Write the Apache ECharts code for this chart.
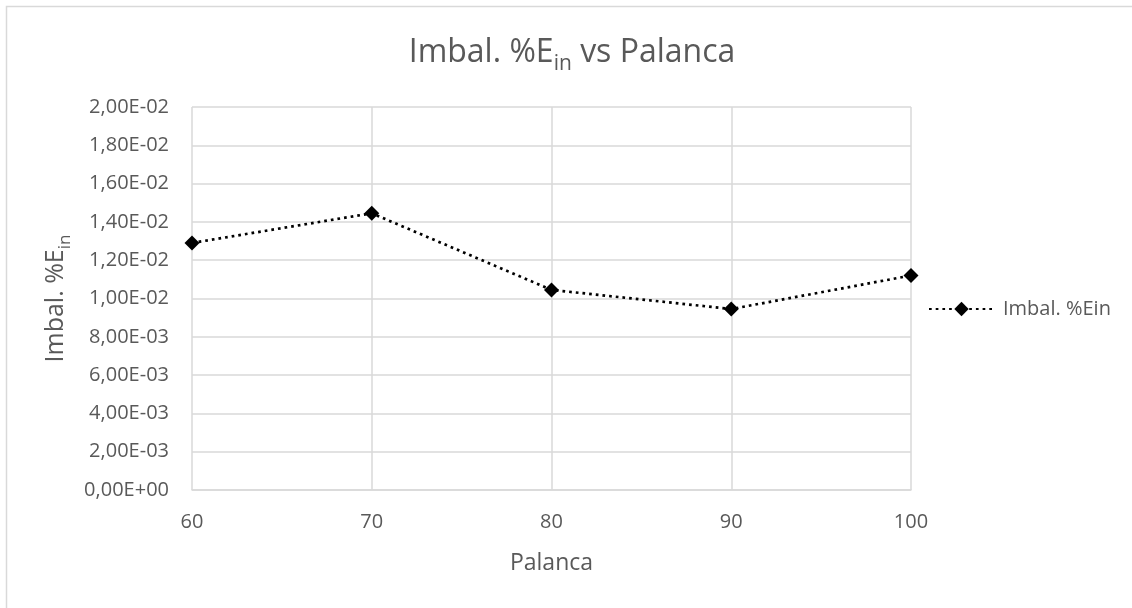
<!DOCTYPE html>
<html>
<head>
<meta charset="utf-8">
<script src="https://cdn.jsdelivr.net/npm/echarts@6/dist/echarts.min.js"></script>
<style>
  html, body { margin: 0; padding: 0; background: #ffffff; }
  #chart { width: 1132px; height: 608px; }
</style>
</head>
<body>
<div id="chart"></div>
<script>
// Palanca settings and the measured energy imbalance at each one
const palanca = [60, 70, 80, 90, 100];
const imbalEin = [0.0129, 0.01445, 0.01045, 0.00945, 0.0112];

// Axis ranges
const xMin = 60, xMax = 100, xStep = 10;
const yMin = 0, yMax = 0.02, yStep = 0.002;

const seriesName = 'Imbal. %Ein';
const FONT = '"Open Sans", "Noto Sans", sans-serif';
const TEXT = '#595959';
const GRID = '#d9d9d9';

// Scientific labels with a decimal comma: 0.014 -> "1,40E-02"
function sci(v) {
  const s = Number(v).toExponential(2);
  const [mant, exp] = s.split('e');
  const e = parseInt(exp, 10);
  const sign = e < 0 ? '-' : '+';
  const digits = String(Math.abs(e)).padStart(2, '0');
  return mant.replace('.', ',') + 'E' + sign + digits;
}

const chart = echarts.init(document.getElementById('chart'), null, { renderer: 'canvas' });

chart.setOption({
  backgroundColor: '#ffffff',
  animation: false,
  textStyle: { fontFamily: FONT },
  graphic: [
    {
      type: 'rect',
      z: -10,
      silent: true,
      shape: { x: 6.5, y: 6.5, width: 1200, height: 700 },
      style: { fill: 'none', stroke: GRID, lineWidth: 1.5 }
    },
    {
      type: 'text',
      x: 572,
      y: 53,
      silent: true,
      style: {
        text: '{m|Imbal. %E}{s|in}{m| vs Palanca}',
        align: 'center',
        verticalAlign: 'middle',
        rich: {
          m: { fontFamily: FONT, fontSize: 32, lineHeight: 44, fill: TEXT },
          s: { fontFamily: FONT, fontSize: 21, lineHeight: 21, fill: TEXT, verticalAlign: 'bottom' }
        }
      }
    }
  ],
  grid: { left: 192, right: 221, top: 107, bottom: 118, containLabel: false },
  legend: {
    show: true,
    left: 923,
    top: 294,
    orient: 'vertical',
    itemWidth: 65,
    itemHeight: 18,
    data: [seriesName],
    textStyle: { fontFamily: FONT, fontSize: 20, color: TEXT, padding: [0, 0, 0, 4] }
  },
  xAxis: {
    type: 'value',
    min: xMin,
    max: xMax,
    interval: xStep,
    name: 'Palanca',
    nameLocation: 'middle',
    nameGap: 62,
    nameTextStyle: { fontFamily: FONT, fontSize: 23, color: TEXT },
    axisLine: { show: true, lineStyle: { color: GRID, width: 1.5 } },
    axisTick: { show: false },
    axisLabel: { fontFamily: FONT, fontSize: 20, color: TEXT, margin: 22 },
    splitLine: { show: true, lineStyle: { color: GRID, width: 1.5 } }
  },
  yAxis: {
    type: 'value',
    min: yMin,
    max: yMax,
    interval: yStep,
    name: '{m|Imbal. %E}{s|in}',
    nameLocation: 'middle',
    nameRotate: 90,
    nameGap: 113,
    nameTextStyle: {
      rich: {
        m: { fontFamily: FONT, fontSize: 25, lineHeight: 34, color: TEXT },
        s: { fontFamily: FONT, fontSize: 17, lineHeight: 17, color: TEXT, verticalAlign: 'bottom' }
      }
    },
    axisLine: { show: false },
    axisTick: { show: false },
    axisLabel: { fontFamily: FONT, fontSize: 20, color: TEXT, margin: 23, formatter: sci },
    splitLine: { show: true, lineStyle: { color: GRID, width: 1.5 } }
  },
  series: [
    {
      name: seriesName,
      type: 'line',
      data: palanca.map((p, i) => [p, imbalEin[i]]),
      symbol: 'diamond',
      symbolSize: 15,
      itemStyle: { color: '#000000' },
      lineStyle: { color: '#000000', width: 2.7, type: [2.7, 4] }
    }
  ]
});
</script>
</body>
</html>
